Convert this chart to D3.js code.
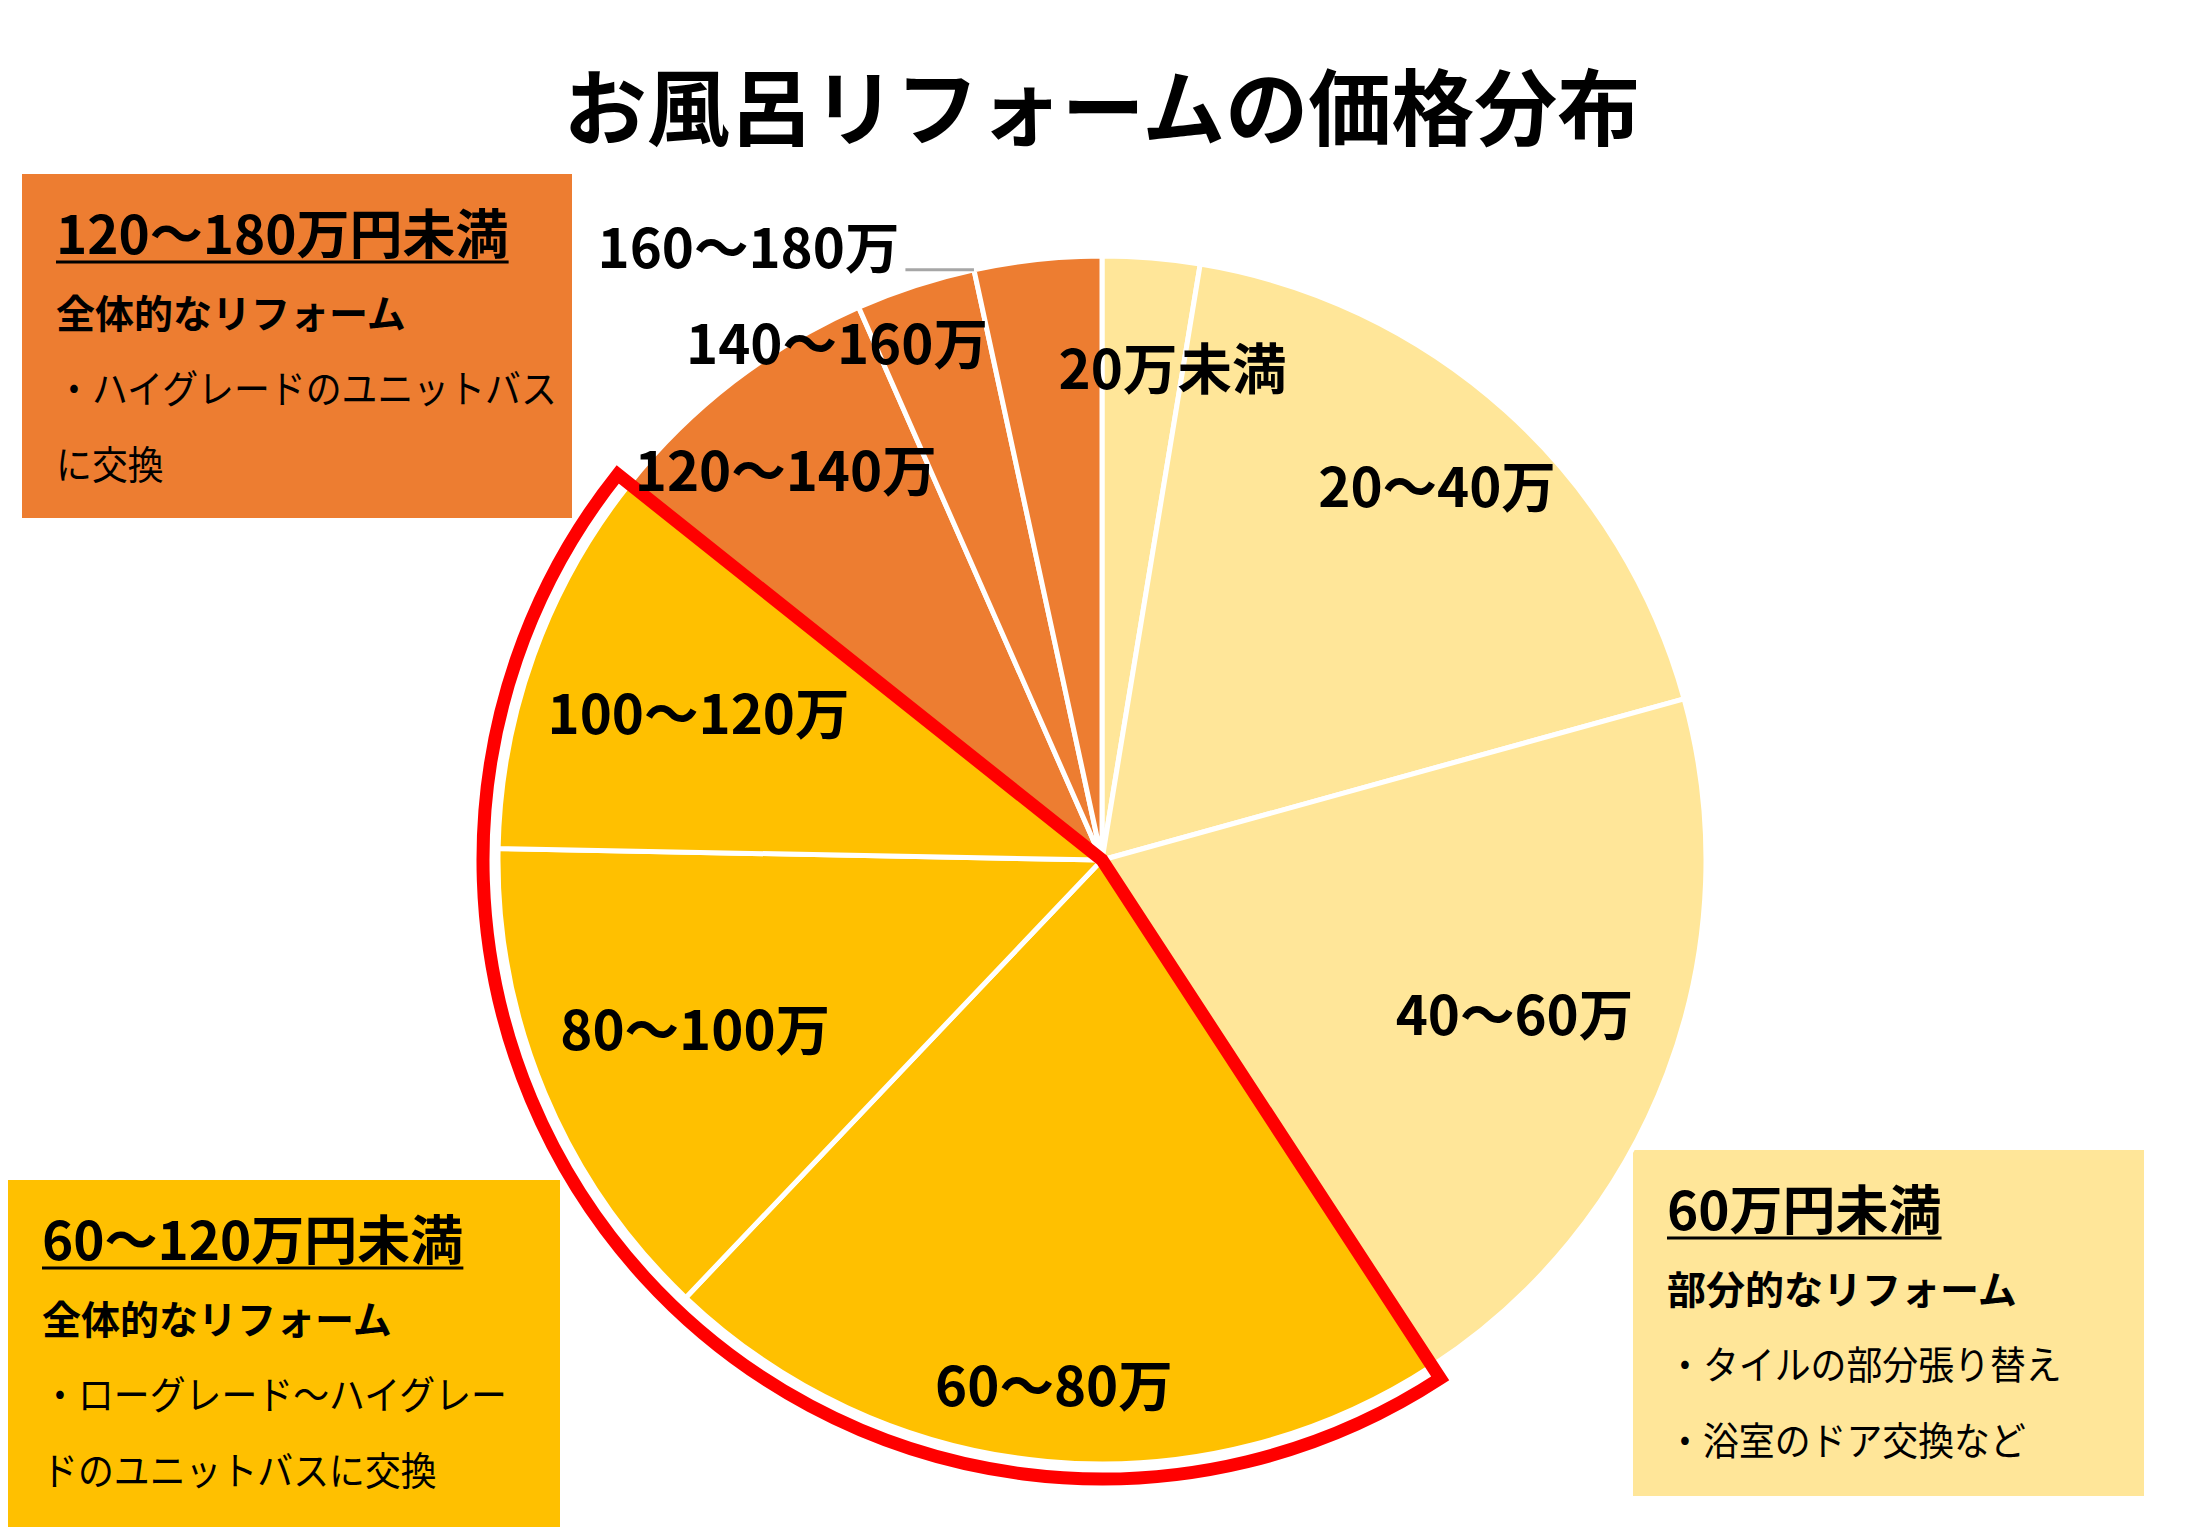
<!DOCTYPE html>
<html lang="ja">
<head>
<meta charset="utf-8">
<script src="https://cdn.jsdelivr.net/npm/d3@7"></script>
<style>
  html, body { margin: 0; padding: 0; background: #ffffff; }
  svg { display: block; }
  text { font-family: "Noto Sans CJK JP", "Noto Sans", sans-serif; }
</style>
</head>
<body>
<svg id="chart" width="2202" height="1527"></svg>
<script>
// ---- data ----
const chartTitle = "お風呂リフォームの価格分布";
const categories = ["20万未満", "20～40万", "40～60万", "60～80万", "80～100万", "100～120万", "120～140万", "140～160万", "160～180万"];
const shares = [2.6, 18.1, 20.1, 21.3, 13.2, 10.4, 7.7, 3.2, 3.4];
const groupOf = [0, 0, 0, 1, 1, 1, 2, 2, 2];
const noteTitles = ["60万円未満", "60～120万円未満", "120～180万円未満"];
const noteSubtitles = ["部分的なリフォーム", "全体的なリフォーム", "全体的なリフォーム"];
const noteLines = [
  ["・タイルの部分張り替え", "・浴室のドア交換など"],
  ["・ローグレード～ハイグレー", "ドのユニットバスに交換"],
  ["・ハイグレードのユニットバス", "に交換"]
];
const highlightedGroup = 1;

// ---- layout / style ----
const W = 2202, H = 1527;
const cx = 1102, cy = 860, R = 604;
const groupColors = ["#FFE699", "#FFC000", "#ED7D31"];
// label placement: [radius fraction of R, angle offset from slice mid (deg)]
const labelPlace = [[0.82, 3.5], [0.83, 0], [0.73, 0], [0.875, 0], [0.73, 0], [0.71, 0], [0.83, -1.5], [0.96, -9.2], [1.17, -23.9]];
const leaderFor = 8;
const boxes = [
  { x: 1633, y: 1150, w: 511, h: 346 },
  { x: 8, y: 1180, w: 552, h: 347 },
  { x: 22, y: 174, w: 550, h: 344 }
];

const svg = d3.select("#chart");

// title
svg.append("text")
  .attr("x", cx).attr("y", 139)
  .attr("text-anchor", "middle")
  .attr("font-size", 83).attr("font-weight", 700)
  .attr("fill", "#000")
  .text(chartTitle);

// note boxes
boxes.forEach((b, i) => {
  const g = svg.append("g").attr("transform", `translate(${b.x},${b.y})`);
  g.append("rect").attr("width", b.w).attr("height", b.h).attr("fill", groupColors[i]);
  const t = g.append("text").attr("x", 34).attr("y", 80)
    .attr("font-size", 53).attr("font-weight", 700).attr("fill", "#000")
    .text(noteTitles[i]);
  const tl = t.node().getComputedTextLength();
  g.append("line").attr("x1", 34).attr("x2", 34 + tl)
    .attr("y1", 88).attr("y2", 88)
    .attr("stroke", "#000").attr("stroke-width", 3);
  g.append("text").attr("x", 34).attr("y", 154)
    .attr("font-size", 39).attr("font-weight", 700).attr("fill", "#000")
    .text(noteSubtitles[i]);
  noteLines[i].forEach((ln, j) => {
    g.append("text")
      .attr("transform", `translate(34,${229 + j * 76}) scale(0.92,1)`)
      .attr("font-size", 39).attr("font-weight", 400).attr("fill", "#000")
      .text(ln);
  });
});

// pie
const pie = d3.pie().sort(null).value(d => d).startAngle(0).endAngle(2 * Math.PI);
const arcs = pie(shares);
const arc = d3.arc().innerRadius(0).outerRadius(R);
const gp = svg.append("g").attr("transform", `translate(${cx},${cy})`);

gp.selectAll("path.slice").data(arcs).enter().append("path")
  .attr("class", "slice")
  .attr("d", arc)
  .attr("fill", (d, i) => groupColors[groupOf[i]])
  .attr("stroke", "#ffffff").attr("stroke-width", 5)
  .attr("stroke-linejoin", "round");

// highlight outline around group
const hi = arcs.filter((d, i) => groupOf[i] === highlightedGroup);
const outlineArc = d3.arc().innerRadius(0).outerRadius(R + 15);
gp.append("path")
  .attr("d", outlineArc({ startAngle: hi[0].startAngle, endAngle: hi[hi.length - 1].endAngle }))
  .attr("fill", "none").attr("stroke", "#FF0000").attr("stroke-width", 13)
  .attr("stroke-linejoin", "miter").attr("stroke-miterlimit", 10);

// labels
arcs.forEach((d, i) => {
  const mid = (d.startAngle + d.endAngle) / 2 + labelPlace[i][1] * Math.PI / 180;
  const r = labelPlace[i][0] * R;
  const x = Math.sin(mid) * r, y = -Math.cos(mid) * r;
  const t = gp.append("text")
    .attr("x", x).attr("y", y).attr("dy", "0.36em")
    .attr("text-anchor", "middle")
    .attr("font-size", 54.5).attr("font-weight", 700).attr("fill", "#000")
    .text(categories[i]);
  if (i === leaderFor) {
    const tl = t.node().getComputedTextLength();
    const ax = Math.sin(d.startAngle) * R, ay = -Math.cos(d.startAngle) * R;
    gp.insert("line", "text")
      .attr("x1", x + tl / 2 + 6).attr("y1", ay)
      .attr("x2", ax).attr("y2", ay)
      .attr("stroke", "#A6A6A6").attr("stroke-width", 3);
  }
});
</script>
</body>
</html>
